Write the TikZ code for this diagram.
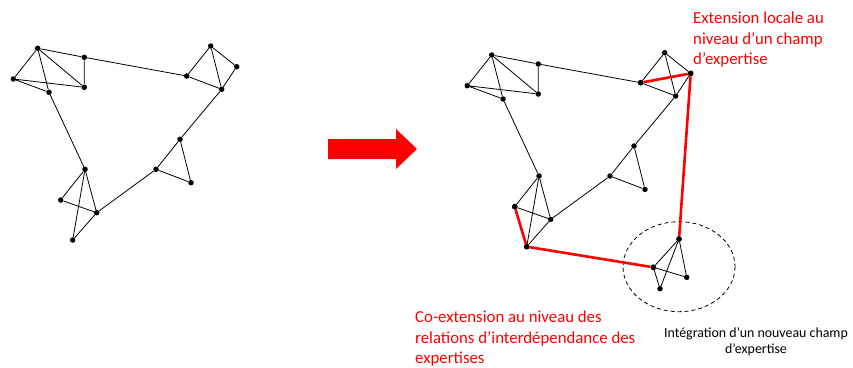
\documentclass[tikz,border=0pt]{standalone}
\usepackage{fontspec}
\setmainfont{Carlito}
\begin{document}
\begin{tikzpicture}[
 x=1pt,y=-1pt,
 line/.style={line width=.8pt},
 redline/.style={line width=2.6pt,red},
 vertex/.style={circle,fill,inner sep=0pt,minimum size=5.5pt},
 redlabel/.style={red,align=left,font=\fontsize{16.8}{20.3}\selectfont,inner sep=0pt},
 blacklabel/.style={align=center,font=\fontsize{13.9}{16.7}\selectfont,inner sep=0pt}]
 \useasboundingbox (0,0) rectangle (853,367);
 % Same network, before (l) and after (r).
 \foreach \g/\dx/\dy in {l/0/0,r/454/6.7}{
  \begin{scope}[shift={(\dx,\dy)}]
   \node[vertex] (\g a) at (37.7,48.3){};
   \node[vertex] (\g b) at (84.3,57.3){};
   \node[vertex] (\g c) at (13.3,79){};
   \node[vertex] (\g d) at (49,92.3){};
   \node[vertex] (\g e) at (84.3,87.3){};
   \node[vertex] (\g f) at (210.7,46){};
   \node[vertex] (\g g) at (236.7,66.7){};
   \node[vertex] (\g h) at (186.7,76){};
   \node[vertex] (\g i) at (221.7,89.3){};
   \node[vertex] (\g j) at (180,139.3){};
   \node[vertex] (\g k) at (156,169.3){};
   \node[vertex] (\g l) at (191,182.7){};
   \node[vertex] (\g m) at (85,169.3){};
   \node[vertex] (\g n) at (60.7,200){};
   \node[vertex] (\g o) at (96.7,212.7){};
   \node[vertex] (\g p) at (72.7,240){};
   \draw[line] (\g a)--(\g b) (\g a)--(\g c) (\g a)--(\g d) (\g a)--(\g e)
    (\g b)--(\g e) (\g c)--(\g e) (\g c)--(\g d) (\g d)--(\g m) (\g b)--(\g h)
    (\g h)--(\g f) (\g f)--(\g i) (\g f)--(\g g) (\g g)--(\g i) (\g h)--(\g i)
    (\g i)--(\g j) (\g j)--(\g k) (\g j)--(\g l) (\g k)--(\g l) (\g k)--(\g o)
    (\g m)--(\g n) (\g m)--(\g o) (\g m)--(\g p) (\g n)--(\g o) (\g o)--(\g p);
  \end{scope}
 }
 % Transition arrow.
 \fill[red] (328,139)--(396,139)--(396,129)--(417,149)--(396,169)--(396,159)--(328,159)--cycle;
 % New field of expertise.
 \draw[line,dash pattern=on 4pt off 3pt] (679,266.7) ellipse [x radius=56,y radius=45];
 \node[vertex] (na) at (679,239){};
 \node[vertex] (nb) at (653.3,267.3){};
 \node[vertex] (nc) at (686.7,277.3){};
 \node[vertex] (nd) at (660,288.7){};
 \draw[line] (na)--(nb) (na)--(nc) (na)--(nd) (nb)--(nc) (nb)--(nd);
 % Extensions.
 \draw[redline] (rh)--(rg) (rg)--(na);
 \draw[redline] (rn)--(rp) (rp)--(nb);
 \node[vertex] at (rg){}; \node[vertex] at (rh){}; \node[vertex] at (rp){};
 \node[vertex] at (rn){}; \node[vertex] at (na){}; \node[vertex] at (nb){};
 % Labels.
 \node[redlabel,anchor=north west] (extlocal) at (693,12)
  {Extension locale au\\niveau d’un champ\\d’expertise};
 \node[redlabel,anchor=north west] (coext) at (415,311)
  {Co-extension au niveau des\\relations d’interdépendance des\\expertises};
 \node[blacklabel,anchor=north] (integ) at (756,327)
  {Intégration d’un nouveau champ\\d’expertise};
\end{tikzpicture}
\end{document}
